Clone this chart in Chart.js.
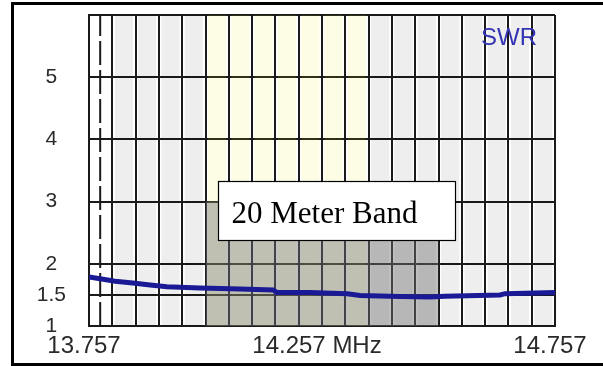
<!DOCTYPE html>
<html>
<head>
<meta charset="utf-8">
<script src="https://cdn.jsdelivr.net/npm/chart.js@4.4.0/dist/chart.umd.min.js"></script>
<style>
    html, body { margin: 0; padding: 0; background: #fff; }
    #wrap { position: relative; width: 603px; height: 366px; }
    #swrChart { display: block; }
    #frame { position: absolute; left: 11px; top: 2px; right: 0; bottom: 0; border: 3px solid #000; border-right: none; pointer-events: none; }
</style>
</head>
<body>
<div id="wrap">
    <canvas id="swrChart" width="603" height="366"></canvas>
    <div id="frame"></div>
</div>
<script>
// Frequency grid (MHz), one line every 50 kHz
const gridFreqs = [13.757, 13.807, 13.857, 13.907, 13.957, 14.007, 14.057, 14.107, 14.157, 14.207, 14.257,
                   14.307, 14.357, 14.407, 14.457, 14.507, 14.557, 14.607, 14.657, 14.707, 14.757];
const xTickLabels = ['13.757', '', '', '', '', '', '', '', '', '', '14.257 MHz',
                     '', '', '', '', '', '', '', '', '', '14.757'];

// SWR axis
const swrTicks = [1, 1.5, 2, 3, 4, 5, 6];
const swrTickLabels = ['1', '1.5', '2', '3', '4', '5', ''];

// Measured sweep
const sweepFreqs = [13.757, 13.781, 13.813, 13.851, 13.888, 13.924, 13.995, 14.081, 14.152, 14.160,
                    14.231, 14.311, 14.339, 14.424, 14.489, 14.521, 14.639, 14.650, 14.757];
const sweepSwr = [1.79, 1.76, 1.72, 1.69, 1.66, 1.63, 1.61, 1.595, 1.58, 1.54,
                  1.54, 1.52, 1.49, 1.475, 1.465, 1.48, 1.50, 1.52, 1.54];

// Column shading between grid lines: none / plain / band (ham band)
const columnKinds = ['none', 'plain', 'plain', 'plain', 'plain',
                     'band', 'band', 'band', 'band', 'band', 'band', 'band',
                     'plain', 'plain', 'plain', 'plain', 'plain', 'plain', 'plain', 'plain'];

// Marker and annotation
const markerFreq = 13.781;
const highlightFreqs = [14.007, 14.507];
const highlightSwr = 3;
const bandLabel = '20 Meter Band';
const traceLabel = 'SWR';

// translucent so the grid lines underneath stay visible
const kindColors = { none: 'rgba(0,0,0,0)', plain: 'rgba(0,0,0,0.065)', band: 'rgba(238,238,20,0.11)' };

// columns sit between each pair of grid lines
const columnData = columnKinds.map((kind, i) => ({
    x: (gridFreqs[i] + gridFreqs[i + 1]) / 2,
    y: [swrTicks[0], swrTicks[swrTicks.length - 1]]
}));

// Plugin: SWR caption and the band label box
const annotationPlugin = {
    id: 'annotations',
    afterDatasetsDraw(chart) {
        const { ctx, chartArea: { left, top, right } } = chart;

        ctx.save();
        ctx.font = '24px "Liberation Sans", Arial, sans-serif';
        ctx.fillStyle = '#3434b4';
        ctx.textAlign = 'center';
        ctx.textBaseline = 'middle';
        ctx.fillText(traceLabel, right - 46, top + 23);
        ctx.restore();

        // band label box
        const bx = left + 129.5, by = top + 166.5, bw = 237, bh = 59;
        ctx.save();
        ctx.fillStyle = '#ffffff';
        ctx.fillRect(bx, by, bw, bh);
        ctx.strokeStyle = '#000000';
        ctx.lineWidth = 1.2;
        ctx.strokeRect(bx, by, bw, bh);
        ctx.font = '31px "Liberation Serif", "Times New Roman", serif';
        ctx.fillStyle = '#000000';
        ctx.textAlign = 'left';
        ctx.textBaseline = 'alphabetic';
        ctx.fillText(bandLabel, bx + 13, by + 41);
        ctx.restore();
    }
};

const swrChart = new Chart(document.getElementById('swrChart'), {
    type: 'line',
    data: {
        datasets: [
            {
                type: 'line',
                label: traceLabel,
                data: sweepFreqs.map((f, i) => ({ x: f, y: sweepSwr[i] })),
                borderColor: '#1a1a96',
                borderWidth: 5,
                pointRadius: 0,
                tension: 0,
                fill: false,
                order: 1
            },
            {
                type: 'line',
                label: 'marker',
                data: [{ x: markerFreq, y: swrTicks[0] }, { x: markerFreq, y: swrTicks[swrTicks.length - 1] }],
                borderColor: '#1a1a1a',
                borderWidth: 2,
                borderDash: [24, 5],
                pointRadius: 0,
                fill: false,
                order: 2
            },
            {
                type: 'line',
                label: 'band highlight',
                data: highlightFreqs.map(f => ({ x: f, y: highlightSwr })),
                borderWidth: 0,
                borderColor: 'rgba(0,0,0,0)',
                backgroundColor: 'rgba(115,115,115,0.45)',
                pointRadius: 0,
                fill: 'start',
                order: 3
            },
            {
                type: 'bar',
                label: 'columns',
                data: columnData,
                backgroundColor: columnKinds.map(k => kindColors[k]),
                borderWidth: 0,
                barPercentage: 0.78,
                categoryPercentage: 1.0,
                order: 4
            }
        ]
    },
    options: {
        responsive: false,
        animation: false,
        events: [],
        layout: {
            padding: { left: 0, right: 48, top: 15, bottom: 0 }
        },
        plugins: {
            legend: { display: false },
            tooltip: { enabled: false }
        },
        scales: {
            x: {
                type: 'linear',
                offset: false,
                min: gridFreqs[0],
                max: gridFreqs[gridFreqs.length - 1],
                afterBuildTicks(scale) {
                    scale.ticks = gridFreqs.map(v => ({ value: v }));
                },
                afterFit(scale) {
                    scale.height = 40;
                },
                ticks: {
                    autoSkip: false,
                    maxRotation: 0,
                    padding: 6,
                    labelOffset: -5,
                    color: '#2a2a2a',
                    font: { family: '"Liberation Sans", Arial, sans-serif', size: 24 },
                    callback: (value, index) => xTickLabels[index]
                },
                grid: { offset: false, color: '#1a1a1a', lineWidth: 2, drawTicks: false },
                border: { color: '#1a1a1a', width: 2 }
            },
            y: {
                type: 'linear',
                min: swrTicks[0],
                max: swrTicks[swrTicks.length - 1],
                afterBuildTicks(scale) {
                    scale.ticks = swrTicks.map(v => ({ value: v }));
                },
                afterFit(scale) {
                    scale.width = 89;
                    // keep the label padding from pushing the plot down
                    scale.paddingTop = 0;
                    scale.paddingBottom = 0;
                },
                ticks: {
                    crossAlign: 'center',
                    padding: 23,
                    color: '#2a2a2a',
                    font: { family: '"Liberation Sans", Arial, sans-serif', size: 21 },
                    callback: (value, index) => swrTickLabels[index]
                },
                grid: { color: '#1a1a1a', lineWidth: 2, drawTicks: false },
                border: { color: '#1a1a1a', width: 2 }
            }
        }
    },
    plugins: [annotationPlugin]
});
</script>
</body>
</html>
